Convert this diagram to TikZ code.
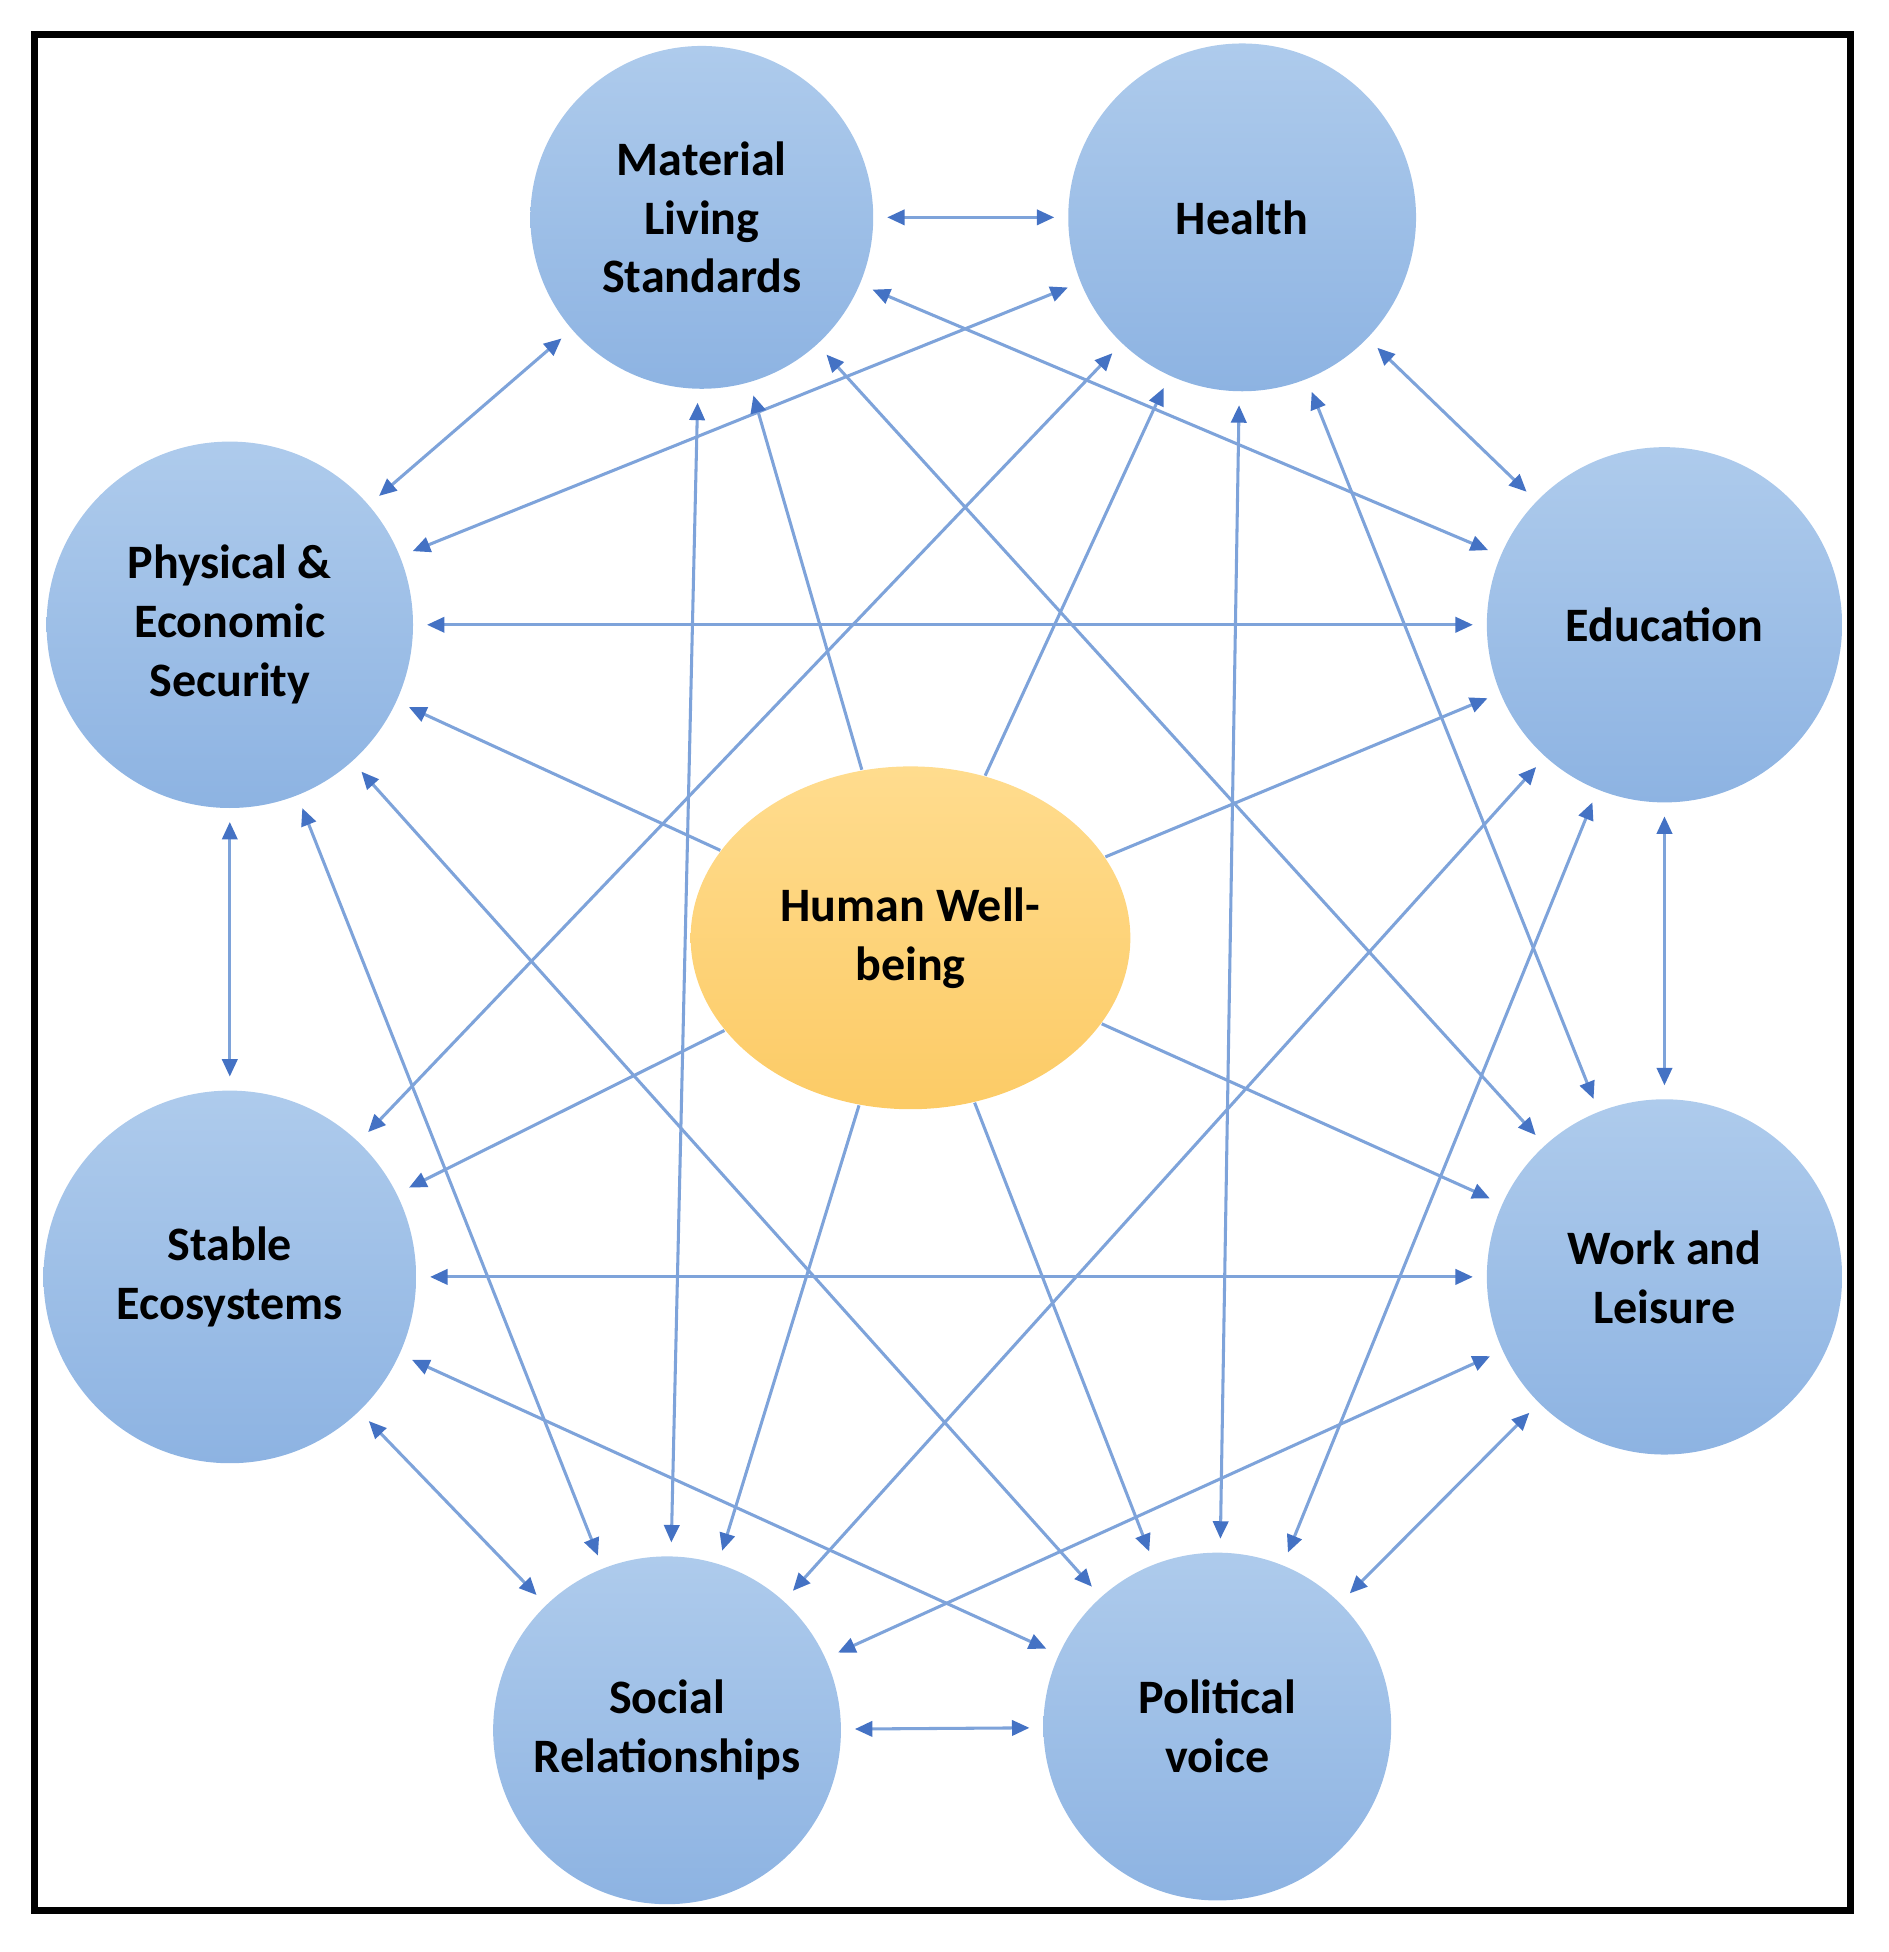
\documentclass[tikz,border=0pt]{standalone}
\usepackage{fontspec}
\setmainfont{Carlito}
\usetikzlibrary{shapes.geometric,arrows.meta}
\definecolor{cTop}{HTML}{AECBEC}
\definecolor{cBot}{HTML}{8DB3E2}
\definecolor{gTop}{HTML}{FFDC8E}
\definecolor{gBot}{HTML}{FCCB66}
\definecolor{line}{HTML}{7EA3DA}
\definecolor{tip}{HTML}{4472C4}
\tikzset{
 lab/.style={align=center,font=\fontsize{11}{13.5}\selectfont\bfseries},
 c/.style={circle,minimum size=#1,top color=cTop,bottom color=cBot,draw=none,lab},
 e/.style={line,line width=0.7pt,{Triangle[length=4pt,width=3.5pt,fill=tip,color=tip]}-{Triangle[length=4pt,width=3.5pt,fill=tip,color=tip]},shorten <=3pt,shorten >=3pt},
 h/.style={line,line width=0.7pt,-{Triangle[length=4pt,width=3.5pt,fill=tip,color=tip]},shorten >=3pt}
}
\begin{document}
\begin{tikzpicture}
\useasboundingbox (0,0) rectangle (15.2,-15.715);
\draw[line width=1.6pt] (0.28,-0.28) rectangle (14.9,-15.38);
\node[c=2.76cm] (M) at (5.65,-1.75) {Material\\Living\\Standards};
\node[c=2.8cm] (H) at (10.0,-1.75) {Health};
\node[c=2.95cm] (P) at (1.85,-5.03) {Physical \&\\Economic\\Security};
\node[c=2.86cm] (E) at (13.4,-5.03) {Education};
\node[c=3.0cm] (S) at (1.85,-10.28) {Stable\\Ecosystems};
\node[c=2.86cm] (W) at (13.4,-10.28) {Work and\\Leisure};
\node[c=2.8cm] (R) at (5.37,-13.93) {Social\\Relationships};
\node[c=2.8cm] (V) at (9.8,-13.9) {Political\\voice};
\node[ellipse,minimum width=3.54cm,minimum height=2.76cm,top color=gTop,bottom color=gBot,draw=none,lab] (C) at (7.33,-7.55) {Human Well-\\being};
\foreach \a/\b in {M/H,M/P,M/E,M/W,M/R,H/P,H/E,H/S,H/V,H/W,P/E,P/S,P/R,P/V,E/W,E/R,E/V,S/W,S/R,S/V,W/V,W/R,R/V}
  \draw[e] (\a) -- (\b);
\foreach \b in {M,H,E,W,V,R,S,P}
  \draw[h] (C) -- (\b);
\end{tikzpicture}
\end{document}
